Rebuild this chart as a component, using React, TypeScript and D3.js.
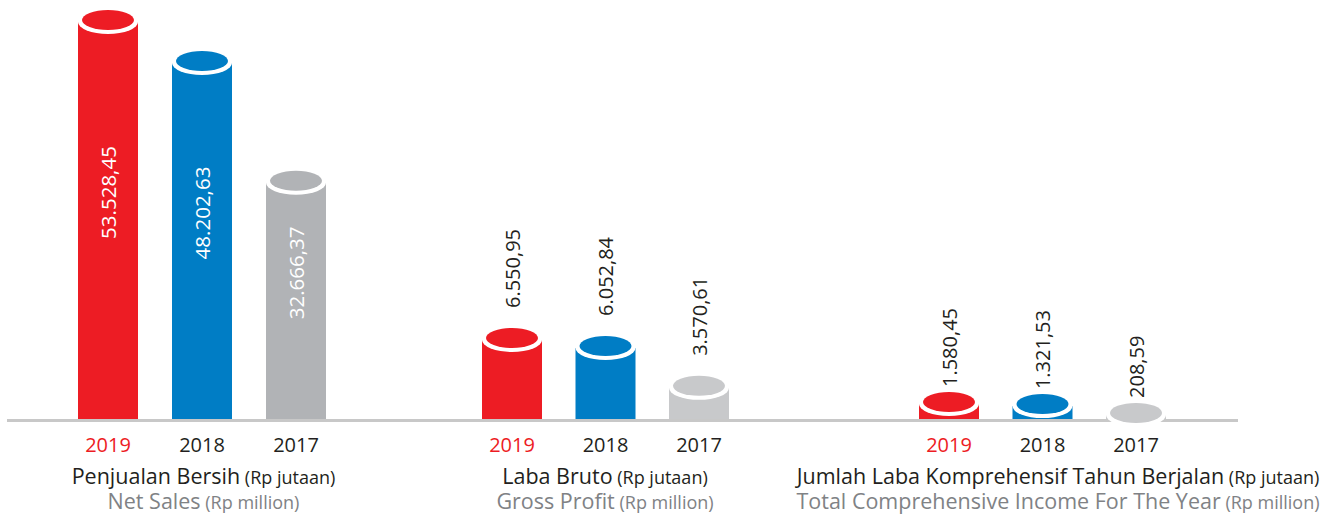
import React from "react";
import * as d3 from "d3";

const years = ["2019", "2018", "2017"];
const netSales = [53528.45, 48202.63, 32666.37];
const grossProfit = [6550.95, 6052.84, 3570.61];
const comprehensiveIncome = [1580.45, 1321.53, 208.59];
const netSalesLabels = ["53.528,45", "48.202,63", "32.666,37"];
const grossProfitLabels = ["6.550,95", "6.052,84", "3.570,61"];
const comprehensiveLabels = ["1.580,45", "1.321,53", "208,59"];

const titlesId = ["Penjualan Bersih", "Laba Bruto", "Jumlah Laba Komprehensif Tahun Berjalan"];
const titlesEn = ["Net Sales", "Gross Profit", "Total Comprehensive Income For The Year"];
const unitId = "(Rp jutaan)";
const unitEn = "(Rp million)";

const RED = "#ED1C24";
const BLUE = "#007DC5";
const GRAY_DARK = "#B1B3B6";
const GRAY_LIGHT = "#C8C9CB";
const TEXT = "#231F20";
const SUB = "#808285";
const FONT = "'Open Sans', 'Noto Sans', sans-serif";

const BASE = 419;
const BAR_W = 60;

type Group = {
  values: number[];
  labels: string[];
  xRange: [number, number];
  domain: [number, number];
  maxH: number;
  colors: string[];
  inside: boolean;
  gap: number;
  titleX: number;
};

const groups: Group[] = [
  { values: netSales, labels: netSalesLabels, xRange: [108, 296], domain: [2000, 53528.45], maxH: 397, colors: [RED, BLUE, GRAY_DARK], inside: true, gap: 0, titleX: 203.5 },
  { values: grossProfit, labels: grossProfitLabels, xRange: [512, 699], domain: [1631, 6550.95], maxH: 79, colors: [RED, BLUE, GRAY_LIGHT], inside: false, gap: 20, titleX: 605 },
  { values: comprehensiveIncome, labels: comprehensiveLabels, xRange: [949, 1136], domain: [-300, 1580.45], maxH: 15, colors: [RED, BLUE, GRAY_LIGHT], inside: false, gap: 5, titleX: 1058 },
];

export default function App() {
  return (
    <svg width={1333} height={515} style={{ position: "absolute", left: 0, top: 0 }} fontFamily={FONT}>
      <rect width={1333} height={515} fill="#fff" />
      <line x1={7} x2={1238} y1={420.5} y2={420.5} stroke="#C8C8C8" strokeWidth={3} />
      {groups.map((g, gi) => {
        const x = d3.scalePoint<string>().domain(years).range(g.xRange);
        const h = d3.scaleLinear().domain(g.domain).range([0, g.maxH]);
        return (
          <g key={gi}>
            {years.map((yr, i) => {
              const cx = x(yr) as number;
              const cy = BASE - h(g.values[i]);
              const col = g.colors[i];
              const capTop = cy - 12;
              return (
                <g key={yr}>
                  <rect x={cx - BAR_W / 2} y={cy} width={BAR_W} height={BASE - cy} fill={col} />
                  <ellipse cx={cx} cy={cy} rx={BAR_W / 2} ry={12} fill="#fff" />
                  <ellipse cx={cx} cy={cy - 2} rx={26} ry={10} fill={col} />
                  {g.inside ? (
                    <text
                      transform={`translate(${cx},${(cy + BASE) / 2 - 28}) rotate(-90)`}
                      textAnchor="middle"
                      dominantBaseline="central"
                      fontSize={20.5}
                      fill="#fff"
                    >
                      {g.labels[i]}
                    </text>
                  ) : (
                    <text
                      transform={`translate(${cx},${capTop - g.gap}) rotate(-90)`}
                      textAnchor="start"
                      dominantBaseline="central"
                      fontSize={20}
                      fill={TEXT}
                    >
                      {g.labels[i]}
                    </text>
                  )}
                  <text x={cx} y={452} textAnchor="middle" fontSize={20} fill={i === 0 ? RED : TEXT}>
                    {yr}
                  </text>
                </g>
              );
            })}
            <text x={g.titleX} y={484} textAnchor="middle" fontSize={21.5} fill={TEXT}>
              {titlesId[gi]}
              <tspan fontSize={18}> {unitId}</tspan>
            </text>
            <text x={g.titleX} y={509} textAnchor="middle" fontSize={21.5} fill={SUB}>
              {titlesEn[gi]}
              <tspan fontSize={18}> {unitEn}</tspan>
            </text>
          </g>
        );
      })}
    </svg>
  );
}
